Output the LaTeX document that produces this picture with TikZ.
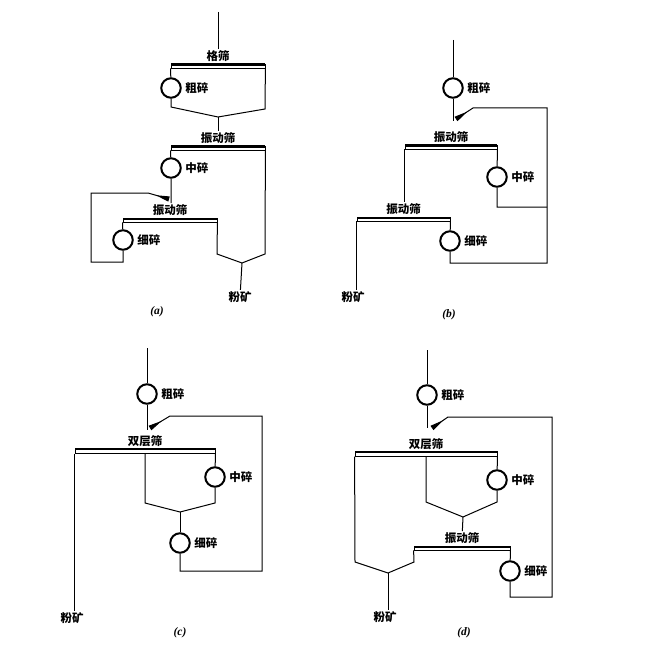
\documentclass[tikz,border=0pt]{standalone}
\usepackage{fontspec}
\newfontfamily\cjk{Noto Sans CJK SC}
\newfontfamily\tagfont{Liberation Serif}
\usetikzlibrary{arrows.meta,positioning}
\tikzset{
  flow/.style={
    line width=1pt,
    black
  },
  crusher/.style={
    circle,
    draw,
    line width=2pt,
    minimum size=19.5pt,
    inner sep=0pt
  },
  sieve/.style={
    draw,
    line width=.8pt,
    minimum height=4pt,
    inner sep=0pt,
    path picture={\draw[line width=3.4pt] (path picture bounding box.north west) -- (path picture bounding box.north east);}
  },
  lbl/.style={
    font=\cjk\bfseries\fontsize{11.5}{13}\selectfont,
    inner sep=1.5pt
  },
  tag/.style={
    font=\tagfont\bfseries\itshape\fontsize{11.5}{13}\selectfont
  },
  merge/.style={
    flow,
    -{Triangle[reversed,length=14pt,width=5pt]}
  }
}
\begin{document}
\begin{tikzpicture}[x=1pt,y=-1pt]
\useasboundingbox (0,0) rectangle (655,663);
% (a)
\coordinate (fa) at (218,12);
\node[sieve,minimum width=94pt] (ga) at (218,66) {};
\node[lbl,above=0pt of ga] (ga-l) {格筛};
\node[crusher] (c1a) at (171,88) {};
\node[lbl,right=2pt of c1a] {粗碎};
\coordinate (a1l) at (171,107);
\coordinate (a1v) at (218,117);
\coordinate (a1r) at (265,109);
\node[sieve,minimum width=94pt] (sa1) at (218,148) {};
\node[lbl,above=0pt of sa1] (sa1-l) {振动筛};
\node[crusher] (c2a) at (171,168) {};
\node[lbl,right=2pt of c2a] {中碎};
\node[sieve,minimum width=94pt] (sa2) at (170,220) {};
\node[lbl,above=0pt of sa2] (sa2-l) {振动筛};
\node[crusher] (c3a) at (123,240) {};
\node[lbl,right=2pt of c3a] {细碎};
\coordinate (a3l) at (91,262);
\coordinate (a3t) at (91,193);
\coordinate (a3k) at (148,193);
\coordinate (a3m) at (169,199);
\coordinate (a2l) at (217,254);
\coordinate (a2v) at (242,263);
\coordinate (a2r) at (265,254);
\node[lbl] (a-out) at (240,297) {粉矿};
\node[tag] at (157,312) {(a)};
\draw[flow] (fa) -- (ga-l);
\draw[flow] (ga.south west) -- (c1a) -- (a1l) -- (a1v) -- (a1r) -- (ga.south east);
\draw[flow] (a1v) -- (sa1-l);
\draw[flow] (sa1.south west) -- (c2a) -- (sa2-l.north -| c2a);
\draw[flow] (sa2.south west) -- (c3a);
\draw[merge] (c3a) |- (a3l) -- (a3t) -- (a3k) -- (a3m);
\draw[flow] (sa2.south east) -- (a2l) -- (a2v) -- (a2r) -- (sa1.south east);
\draw[flow] (a2v) -- (a-out);
% (b)
\coordinate (fb) at (453,40);
\node[crusher] (c1b) at (453,88) {};
\node[lbl,right=2pt of c1b] {粗碎};
\coordinate (b1o) at (453,121);
\node[sieve,minimum width=92pt] (sb1) at (451,147) {};
\node[lbl,above=0pt of sb1] (sb1-l) {振动筛};
\node[crusher] (c2b) at (497,177) {};
\node[lbl,right=2pt of c2b] {中碎};
\node[sieve,minimum width=93pt] (sb2) at (403.5,219) {};
\node[lbl,above=0pt of sb2] (sb2-l) {振动筛};
\node[crusher] (c3b) at (450,241) {};
\node[lbl,right=2pt of c3b] {细碎};
\coordinate (b2) at (547,207);
\coordinate (b3) at (547,263);
\coordinate (btop) at (547,108);
\coordinate (bk) at (473,108);
\coordinate (bm) at (456,119);
\node[lbl] (b-out) at (353,297) {粉矿};
\node[tag] at (449,315) {(b)};
\draw[flow] (fb) -- (c1b) -- (b1o);
\draw[merge] (c3b) |- (b3) -- (btop) -- (bk) -- (bm);
\draw[flow] (sb1.south east) -- (c2b) |- (b2);
\draw[flow] (sb1.south west) -- (sb2-l.north -| sb1.south west);
\draw[flow] (sb2.south east) -- (c3b);
\draw[flow] (sb2.south west) -- (b-out.north -| sb2.south west);
% (c)
\coordinate (fc) at (147,348);
\node[crusher] (c1c) at (147,394) {};
\node[lbl,right=2pt of c1c] {粗碎};
\coordinate (c1o) at (147,430);
\node[sieve,minimum width=140pt,minimum height=4.5pt] (dc) at (145,451) {};
\node[lbl,above=0pt of dc] (dc-l) {双层筛};
\node[crusher] (c2c) at (215,477) {};
\node[lbl,right=2pt of c2c] {中碎};
\coordinate (cfl) at (145,503);
\coordinate (cfv) at (180,512);
\coordinate (cfr) at (215,503);
\node[crusher] (c3c) at (180,543) {};
\node[lbl,right=2pt of c3c] {细碎};
\coordinate (c3) at (262,571);
\coordinate (ctop) at (262,416);
\coordinate (ck) at (170,416);
\coordinate (cm) at (150,428);
\node[lbl] (c-out) at (72,618) {粉矿};
\node[tag] at (180,633) {(c)};
\draw[flow] (fc) -- (c1c) -- (c1o);
\draw[flow] (dc.south) -- (cfl) -- (cfv) -- (cfr) -- (c2c) -- (dc.south east);
\draw[flow] (cfv) -- (c3c);
\draw[merge] (c3c) |- (c3) -- (ctop) -- (ck) -- (cm);
\draw[flow] (dc.south west) -- (c-out.north -| dc.south west);
% (d)
\coordinate (fd) at (427,350);
\node[crusher] (c1d) at (427,395) {};
\node[lbl,right=2pt of c1d] {粗碎};
\coordinate (d1o) at (427,428);
\node[sieve,minimum width=142pt,minimum height=4.5pt] (dd) at (426,454) {};
\node[lbl,above=0pt of dd] (dd-l) {双层筛};
\node[crusher] (c2d) at (497,480) {};
\node[lbl,right=2pt of c2d] {中碎};
\coordinate (dfl) at (426,502);
\coordinate (dfv) at (463,517);
\coordinate (dfr) at (497,502);
\node[sieve,minimum width=96pt] (sd) at (462,548) {};
\node[lbl,above=0pt of sd] (sd-l) {振动筛};
\coordinate (dgl) at (355,562);
\coordinate (dgv) at (388,573);
\coordinate (dgr) at (414,562);
\node[crusher] (c3d) at (510,571) {};
\node[lbl,right=2pt of c3d] {细碎};
\coordinate (d3) at (552,597);
\coordinate (dtop) at (552,417);
\coordinate (dk) at (448,417);
\coordinate (dm) at (432,428);
\node[lbl] (d-out) at (385,617) {粉矿};
\node[tag] at (464,633) {(d)};
\draw[flow] (fd) -- (c1d) -- (d1o);
\draw[flow] (dd.south) -- (dfl) -- (dfv) -- (dfr) -- (c2d) -- (dd.south east);
\draw[flow] (dfv) -- (sd-l);
\draw[flow] (dd.south west) -- (dgl) -- (dgv) -- (dgr) -- (sd.south west);
\draw[flow] (dgv) -- (d-out.north -| dgv);
\draw[flow] (sd.south east) -- (c3d);
\draw[merge] (c3d) |- (d3) -- (dtop) -- (dk) -- (dm);
\end{tikzpicture}
\end{document}
